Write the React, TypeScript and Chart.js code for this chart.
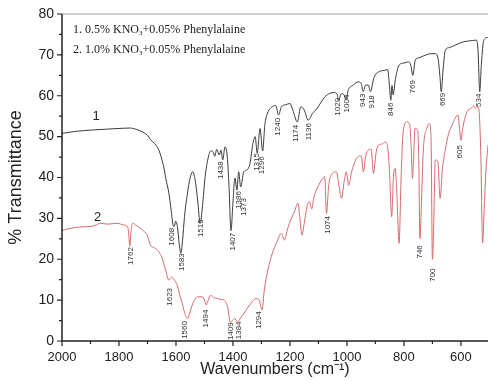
import React, { useEffect, useRef } from "react";
import { Chart, registerables } from "chart.js";
Chart.register(...registerables);

// Series 1: 0.5% KNO3 + 0.05% Phenylalaine (black)
const wn1 = [2000,1950,1900,1850,1800,1760,1745,1725,1700,1690,1675,1660,1650,1643,1635,1625,1617,1610,1606,1601,1595,1589,1583,1577,1570,1560,1550,1541,1533,1524,1515,1507,1498,1488,1478,1470,1464,1457,1448,1442,1436,1428,1420,1414,1407,1400,1393,1386,1380,1373,1362,1350,1340,1330,1322,1315,1305,1296,1288,1280,1266,1250,1240,1230,1215,1200,1190,1174,1162,1150,1136,1120,1108,1090,1078,1060,1045,1035,1029,1020,1010,1004,995,980,960,950,943,935,925,918,905,890,870,857,852,846,842,838,830,817,800,784,776,769,760,750,730,702,690,680,674,669,663,655,640,620,590,560,545,540,534,528,520,505];
const t1 = [50.8,51.3,51.6,51.8,52.0,52.1,51.9,51.4,50.3,49.3,48.3,46.7,44.5,42.6,39.5,36.2,32.0,28.3,28.0,29.3,28.0,24.0,21.5,24.5,30.5,36.0,40.0,41.4,39.5,34.5,28.8,33.0,40.0,44.5,46.5,46.3,45.2,46.9,45.5,46.7,44.3,47.5,45.1,38.0,27.0,34.0,39.9,36.9,41.4,37.7,41.4,41.9,43.5,48.3,50.0,46.0,52.0,46.5,53.0,55.5,57.1,57.6,55.3,57.3,57.8,58.1,56.5,53.6,57.3,56.5,54.0,55.8,56.6,58.5,59.7,60.6,60.8,60.4,58.9,60.5,60.2,59.0,61.5,62.5,63.4,63.0,61.0,62.6,62.6,61.0,64.5,65.8,66.2,66.4,63.5,58.9,62.5,60.2,64.0,67.5,68.0,68.3,67.5,65.0,68.8,69.2,69.8,70.3,70.3,69.0,65.0,61.0,66.0,71.1,71.8,72.4,73.2,73.5,73.6,71.0,61.0,68.0,73.5,74.3];

// Series 2: 1.0% KNO3 + 0.05% Phenylalaine (red)
const wn2 = [2000,1975,1937,1901,1880,1866,1840,1807,1785,1772,1767,1762,1757,1752,1740,1731,1715,1701,1690,1675,1660,1650,1643,1635,1625,1615,1607,1595,1585,1578,1570,1560,1552,1543,1535,1525,1507,1500,1494,1488,1478,1468,1455,1445,1431,1419,1409,1400,1394,1384,1372,1361,1348,1337,1319,1308,1298,1290,1280,1266,1243,1231,1219,1210,1202,1185,1172,1165,1158,1150,1138,1131,1124,1115,1102,1085,1078,1072,1064,1055,1037,1028,1019,1010,1002,994,985,970,961,950,942,935,925,915,907,898,890,875,867,860,855,850,843,837,831,826,817,810,802,790,780,775,770,765,761,752,748,744,738,732,720,711,705,700,695,690,681,673,665,655,643,631,620,610,605,600,594,585,575,565,555,548,540,535,530,524,518,512,505];
const t2 = [27.0,27.5,27.9,28.0,28.4,28.8,28.6,28.8,28.4,28.1,27.0,23.2,27.5,28.8,28.3,27.9,27.0,25.9,23.5,22.8,21.8,20.5,19.0,17.0,14.9,15.6,15.0,13.5,10.8,9.2,7.0,5.5,6.8,8.8,10.0,10.8,10.8,10.0,8.8,9.8,11.2,10.6,10.4,10.2,10.0,8.4,4.5,5.2,5.5,4.7,5.8,6.8,8.2,9.2,10.4,10.0,7.6,12.5,16.5,20.6,24.7,26.3,24.7,27.0,28.8,31.5,33.7,30.0,25.9,28.8,33.5,34.1,32.3,35.5,37.7,39.8,40.2,31.2,38.0,40.6,41.4,38.0,34.9,39.0,41.4,38.1,41.0,44.2,45.1,45.3,41.4,45.0,46.7,46.9,41.0,46.0,47.9,48.2,48.7,48.3,46.0,40.2,30.4,40.0,42.2,38.0,23.9,40.0,51.6,53.6,53.0,48.0,39.8,47.0,52.0,51.6,45.0,25.1,35.0,46.7,52.0,53.2,50.0,20.0,30.0,44.3,43.8,34.9,42.0,46.7,50.8,52.8,54.5,55.3,52.0,49.1,52.0,54.8,56.5,56.9,57.5,56.9,57.3,55.0,45.0,24.0,33.0,42.0,48.0];

// Axis ticks
const xTicks = [2000, 1800, 1600, 1400, 1200, 1000, 800, 600];
const xMinor = [1900, 1700, 1500, 1300, 1100, 900, 700];
const yTicks = [0, 10, 20, 30, 40, 50, 60, 70, 80];
const yMinor = [5, 15, 25, 35, 45, 55, 65, 75];

// Peak annotations (text, anchor in data coords)
const peakText1 = ["1608","1583","1515","1438","1407","1386","1373","1315","1296","1240","1174","1136","1029","1004","943","918","846","769","669","534"];
const peakX1 = [1614,1581,1513,1443,1402,1379,1362,1318,1299,1242,1180,1133,1031,1000,943,914,847,768,664,536];
const peakY1 = [25.5,19.3,27.6,41.8,24.3,34.5,32.8,43.8,43.0,52.4,50.8,51.2,57.3,58.1,58.9,58.5,56.7,62.2,59.1,58.9];
const peakText2 = ["1762","1623","1560","1494","1409","1384","1294","1074","746","700","605"];
const peakX2 = [1760,1622,1570,1497,1409,1380,1309,1066,743,700,604];
const peakY2 = [20.8,10.8,2.7,5.5,2.4,2.6,5.1,28.4,21.8,16.1,46.3];

const seriesNames = ["1", "2"];
const seriesNameX = [1880, 1875];
const seriesNameY = [54.9, 30.3];

const legendLines = [
  ["1. 0.5% KNO", "3", "+0.05% Phenylalaine"],
  ["2. 1.0% KNO", "3", "+0.05% Phenylalaine"],
];

const SANS = '"Liberation Sans", Arial, sans-serif';
const SERIF = '"Liberation Serif", "Times New Roman", serif';

const decoPlugin = {
  id: "deco",
  afterDraw(chart: any) {
    const ctx = chart.ctx as CanvasRenderingContext2D;
    const xs = chart.scales.x;
    const ys = chart.scales.y;
    const area = chart.chartArea;
    ctx.save();
    // top border
    ctx.strokeStyle = "#bdbdbd";
    ctx.lineWidth = 1.5;
    ctx.beginPath();
    ctx.moveTo(area.left, area.top);
    ctx.lineTo(area.right, area.top);
    ctx.stroke();
    // axes
    ctx.strokeStyle = "#222";
    ctx.lineWidth = 1.5;
    ctx.beginPath();
    ctx.moveTo(area.left, area.top);
    ctx.lineTo(area.left, area.bottom);
    ctx.lineTo(area.right, area.bottom);
    ctx.stroke();
    ctx.lineWidth = 1.2;
    ctx.beginPath();
    xTicks.forEach((v) => {
      const p = xs.getPixelForValue(v);
      ctx.moveTo(p, area.bottom);
      ctx.lineTo(p, area.bottom + 5);
    });
    xMinor.forEach((v) => {
      const p = xs.getPixelForValue(v);
      ctx.moveTo(p, area.bottom);
      ctx.lineTo(p, area.bottom + 3);
    });
    yTicks.forEach((v) => {
      const p = ys.getPixelForValue(v);
      ctx.moveTo(area.left, p);
      ctx.lineTo(area.left - 5, p);
    });
    yMinor.forEach((v) => {
      const p = ys.getPixelForValue(v);
      ctx.moveTo(area.left, p);
      ctx.lineTo(area.left - 3, p);
    });
    ctx.stroke();

    // legend
    ctx.fillStyle = "#1a1a1a";
    ctx.textBaseline = "middle";
    ctx.textAlign = "left";
    const lx = area.left + 11;
    const lys = [ys.getPixelForValue(76.2), ys.getPixelForValue(71.3)];
    legendLines.forEach((parts, i) => {
      let x = lx;
      const y = lys[i];
      ctx.font = `12px ${SERIF}`;
      ctx.fillText(parts[0], x, y);
      x += ctx.measureText(parts[0]).width;
      ctx.font = `7px ${SERIF}`;
      ctx.fillText(parts[1], x, y + 4);
      x += ctx.measureText(parts[1]).width;
      ctx.font = `12px ${SERIF}`;
      ctx.fillText(parts[2], x, y);
    });

    // series names
    ctx.font = `13px ${SANS}`;
    ctx.textAlign = "center";
    ctx.fillStyle = "#222";
    seriesNames.forEach((s, i) => {
      ctx.fillText(s, xs.getPixelForValue(seriesNameX[i]), ys.getPixelForValue(seriesNameY[i]));
    });

    // peak labels
    ctx.font = `8px ${SANS}`;
    ctx.fillStyle = "#333";
    const drawPeaks = (texts: string[], px: number[], py: number[]) => {
      texts.forEach((t, i) => {
        ctx.save();
        ctx.translate(xs.getPixelForValue(px[i]), ys.getPixelForValue(py[i]));
        ctx.rotate(-Math.PI / 2);
        ctx.textAlign = "center";
        ctx.textBaseline = "middle";
        ctx.fillText(t, 0, 0);
        ctx.restore();
      });
    };
    drawPeaks(peakText1, peakX1, peakY1);
    drawPeaks(peakText2, peakX2, peakY2);
    ctx.restore();
  },
};

export default function App() {
  const ref = useRef<HTMLCanvasElement | null>(null);
  useEffect(() => {
    if (!ref.current) return;
    const chart = new Chart(ref.current, {
      type: "line",
      data: {
        datasets: [
          {
            label: "1",
            data: wn1.map((x, i) => ({ x, y: t1[i] })),
            borderColor: "#3a3a3a",
            borderWidth: 1,
            pointRadius: 0,
            cubicInterpolationMode: "monotone",
            fill: false,
          },
          {
            label: "2",
            data: wn2.map((x, i) => ({ x, y: t2[i] })),
            borderColor: "#d86a6a",
            borderWidth: 1,
            pointRadius: 0,
            cubicInterpolationMode: "monotone",
            fill: false,
          },
        ],
      },
      options: {
        animation: false,
        responsive: false,
        devicePixelRatio: 1,
        layout: { padding: { top: 14, right: 0, left: 0, bottom: 0 } },
        plugins: { legend: { display: false }, tooltip: { enabled: false } },
        scales: {
          x: {
            type: "linear",
            reverse: true,
            min: 505,
            max: 2000,
            afterBuildTicks: (s: any) => {
              s.ticks = xTicks.map((v) => ({ value: v }));
            },
            afterFit: (s: any) => {
              s.height = 40;
            },
            grid: { display: false, drawTicks: true, tickLength: 5 },
            border: { display: false },
            ticks: {
              autoSkip: false,
              maxRotation: 0,
              padding: 4,
              color: "#222",
              font: { family: SANS, size: 13 },
              callback: (v: any) => String(v),
            },
            title: {
              display: true,
              text: "Wavenumbers (cm\u207B\u00B9)",
              color: "#222",
              font: { family: SANS, size: 16 },
              padding: { top: 0, bottom: 2 },
            },
          },
          y: {
            type: "linear",
            min: 0,
            max: 80,
            afterBuildTicks: (s: any) => {
              s.ticks = yTicks.map((v) => ({ value: v }));
            },
            afterFit: (s: any) => {
              s.width = 62;
            },
            grid: { display: false, drawTicks: true, tickLength: 5 },
            border: { display: false },
            ticks: {
              padding: 3,
              color: "#222",
              font: { family: SANS, size: 14 },
              callback: (v: any) => String(v),
            },
            title: {
              display: true,
              text: "% Transmittance",
              color: "#222",
              font: { family: SANS, size: 18 },
              padding: { top: 5, bottom: 0 },
            },
          },
        },
      },
      plugins: [decoPlugin],
    });
    return () => chart.destroy();
  }, []);
  return (
    <div style={{ position: "absolute", left: 0, top: 0, width: 488, height: 381, background: "#fff" }}>
      <canvas ref={ref} width={488} height={381} style={{ display: "block" }} />
    </div>
  );
}
